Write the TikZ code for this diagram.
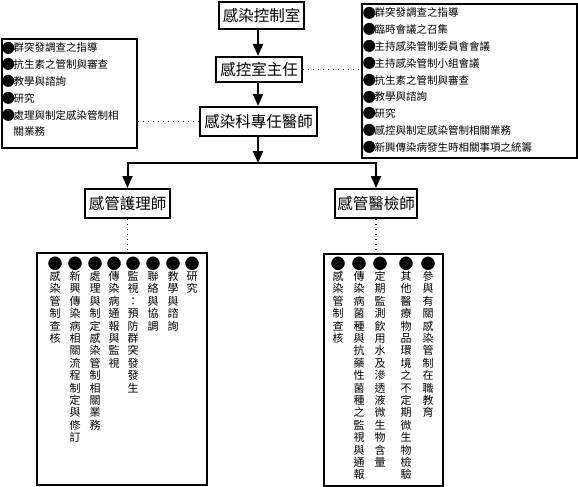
\documentclass[tikz,border=0pt]{standalone}
\usepackage{fontspec}
\newfontfamily\cjk{Noto Sans CJK TC}
\usetikzlibrary{arrows.meta}
\def\vcolaux#1{\ifx#1\relax\else\hbox to 12pt{\hss#1\hss}\expandafter\vcolaux\fi}
\newcommand\vcol[1]{\vtop{\baselineskip=12.4pt\lineskiplimit=-100pt\lineskip=0pt\vcolaux#1\relax}}
\newcommand\lst[1]{\vtop{\baselineskip=16.8pt\lineskiplimit=-100pt\lineskip=0pt #1}}
% enlarged bullets (the reference draws them bigger than the text)
\newcommand\cbul{\raisebox{-1.5pt}{\fontsize{15}{15}\selectfont ●}}
\newcommand\lbul{\makebox[10.5pt][c]{\raisebox{-1.1pt}{\fontsize{13.5}{13.5}\selectfont ●}}}
\tikzset{
  title/.style={draw, line width=2pt, inner sep=0pt, font=\cjk\fontsize{15.5}{18}\selectfont},
  listbox/.style={draw, line width=1.5pt, inner sep=0pt},
  colbox/.style={draw, line width=2pt, inner sep=0pt},
  arr/.style={line width=2pt, -{Triangle[width=10pt,length=12pt]}},
  dots/.style={line width=1.2pt, dash pattern=on 1.2pt off 3.8pt},
  listtext/.style={anchor=base west, inner sep=0pt, font=\cjk\fontsize{10.5}{16.8}\selectfont},
  coltext/.style={anchor=base, inner sep=0pt, font=\cjk\fontsize{11}{12.4}\selectfont}
}
\begin{document}
\begin{tikzpicture}[x=1pt,y=-1pt]
\useasboundingbox (0,0) rectangle (578,487);
\fill[white] (0,0) rectangle (578,487);
% title boxes
\node[title, minimum width=85pt, minimum height=27pt] (A) at (261.5,15.5) {感染控制室};
\node[title, minimum width=86pt, minimum height=25pt] (B) at (259,69.5) {感控室主任};
\node[title, minimum width=117pt, minimum height=29pt] (C) at (258.5,121.5) {感染科專任醫師};
\node[title, minimum width=85pt, minimum height=29pt] (D) at (127.5,203.5) {感管護理師};
\node[title, minimum width=82pt, minimum height=29pt] (E) at (376,203.5) {感管醫檢師};
% list boxes
\node[listbox, minimum width=135pt, minimum height=109pt] (L) at (69.5,93.5) {};
\node[listbox, minimum width=215pt, minimum height=154pt] (R) at (469.5,81) {};
\node[listtext] (Ltext) at (3,52) {\lst{\hbox{\lbul 群突發調查之指導}\hbox{\lbul 抗生素之管制與審查}\hbox{\lbul 教學與諮詢}\hbox{\lbul 研究}\hbox{\lbul 處理與制定感染管制相}\hbox{\hspace*{10.5pt}關業務}}};
\node[listtext] (Rtext) at (364,17) {\lst{\hbox{\lbul 群突發調查之指導}\hbox{\lbul 臨時會議之召集}\hbox{\lbul 主持感染管制委員會會議}\hbox{\lbul 主持感染管制小組會議}\hbox{\lbul 抗生素之管制與審查}\hbox{\lbul 教學與諮詢}\hbox{\lbul 研究}\hbox{\lbul 感控與制定感染管制相關業務}\hbox{\lbul 新興傳染病發生時相關事項之統籌}}};
% column boxes
\node[colbox, minimum width=170pt, minimum height=232pt] (BL) at (122,369) {};
\node[colbox, minimum width=119pt, minimum height=232pt] (BR) at (383.5,370) {};
\node[coltext] (bl1) at (55,268) {\vcol{\cbul 感染管制查核}};
\node[coltext] (bl2) at (75,268) {\vcol{\cbul 新興傳染病相關流程制定與修訂}};
\node[coltext] (bl3) at (95,268) {\vcol{\cbul 處理與制定感染管制相關業務}};
\node[coltext] (bl4) at (114,268) {\vcol{\cbul 傳染病通報與監視}};
\node[coltext] (bl5) at (133,268) {\vcol{\cbul 監視：預防群突發發生}};
\node[coltext] (bl6) at (153,268) {\vcol{\cbul 聯絡與協調}};
\node[coltext] (bl7) at (173,268) {\vcol{\cbul 教學與諮詢}};
\node[coltext] (bl8) at (192,268) {\vcol{\cbul 研究}};
\node[coltext] (br1) at (338,268) {\vcol{\cbul 感染管制查核}};
\node[coltext] (br2) at (359,268) {\vcol{\cbul 傳染病菌種與抗藥性菌種之監視與通報}};
\node[coltext] (br3) at (380,268) {\vcol{\cbul 定期監測飲用水及滲透液微生物含量}};
\node[coltext] (br4) at (406,268) {\vcol{\cbul 其他醫療物品環境之不定期微生物檢驗}};
\node[coltext] (br5) at (428,268) {\vcol{\cbul 參與有關感染管制在職教育}};
% connectors
\coordinate (spine) at (258,0);
\coordinate (fork) at (258,163);
\draw[arr] (spine |- A.south) -- (spine |- B.north);
\draw[arr] (spine |- B.south) -- (spine |- C.north);
\draw[arr] (spine |- C.south) -- (fork);
\draw[arr] (fork) -| (D.north);
\draw[arr] (fork) -| (E.north);
\draw[dots] (B.east) -- (R.west |- B.east);
\draw[dots] (L.east |- C.west) -- (C.west);
\draw[dots] (D.south) -- (D.south |- BL.north);
\draw[dots] (E.south) -- (E.south |- BR.north);
\end{tikzpicture}
\end{document}
